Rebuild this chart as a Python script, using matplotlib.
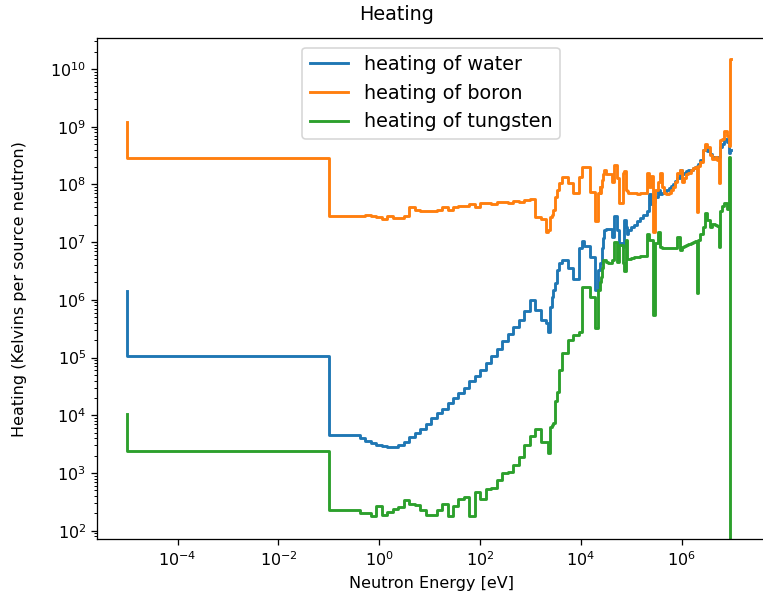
import matplotlib.pyplot as plt

# upper edge of each energy group (eV); first entry is the lowest edge
energy_ev = [
    1e-5, 0.1, 0.41399, 0.53158, 0.68256, 0.87642, 1.1254, 1.4450, 1.8554, 2.3824,
    3.0590, 3.9279, 5.0435, 6.4760, 8.3153, 10.677, 13.710, 17.603, 22.603, 29.023,
    37.266, 47.851, 61.442, 78.893, 101.30, 130.07, 167.02, 214.45, 275.36, 353.57,
    454.00, 582.95, 748.52, 961.12, 1234.1, 1584.6, 2034.7, 2248.7, 2485.2, 2612.6,
    2746.5, 3035.4, 3354.6, 3707.4, 4307.4, 5530.8, 7101.7, 9118.8, 10595, 11709,
    15034, 19305, 21875, 23579, 24176, 24788, 26058, 27000, 28501, 31828,
    34307, 40868, 46309, 52475, 56562, 67379, 72000, 79500, 82500, 86517,
    98037, 1.1109e5, 1.2907e5, 1.4996e5, 1.7422e5, 2.0242e5, 2.2371e5, 2.4724e5, 2.7324e5, 2.9452e5,
    3.3373e5, 3.6883e5, 4.0762e5, 4.5049e5, 4.9787e5, 5.5023e5, 6.0810e5, 6.7206e5, 7.4274e5, 8.2085e5,
    9.0718e5, 1.0026e6, 1.1080e6, 1.2246e6, 1.3534e6, 1.4957e6, 1.6530e6, 1.8268e6, 2.0190e6, 2.1225e6,
    2.3069e6, 2.5924e6, 2.8651e6, 3.1664e6, 3.6788e6, 4.0657e6, 4.4933e6, 4.9659e6, 5.4881e6, 5.7695e6,
    6.3763e6, 7.0469e6, 7.7880e6, 8.6071e6, 9.0484e6, 9.5123e6,
]

heating_water = [
    1.45e6, 1.07e5, 4.5e3, 4.0e3, 3.6e3, 3.3e3, 3.05e3, 2.9e3, 2.85e3, 2.85e3,
    3.05e3, 3.5e3, 4.2e3, 5.0e3, 5.9e3, 7.2e3, 8.8e3, 1.08e4, 1.3e4, 1.6e4,
    2.0e4, 2.45e4, 3.0e4, 3.9e4, 4.8e4, 6.1e4, 8.0e4, 1.05e5, 1.4e5, 1.9e5,
    2.6e5, 3.4e5, 4.4e5, 6.5e5, 1.0e6, 6.6e5, 4.4e5, 4.0e5, 2.8e5, 7.5e5,
    1.1e6, 1.5e6, 1.95e6, 3.3e6, 4.3e6, 4.9e6, 3.6e6, 2.3e6, 8.0e6, 1.05e7,
    8.5e6, 5.6e6, 1.5e6, 3.3e6, 4.3e6, 4.3e6, 4.3e6, 8.0e6, 1.2e7, 1.6e7,
    1.7e7, 1.7e7, 1.25e7, 2.8e7, 1.6e7, 9.6e6, 8.3e6, 2.4e7, 1.8e7, 1.4e7,
    1.6e7, 1.85e7, 2.0e7, 2.3e7, 2.6e7, 3.0e7, 3.4e7, 6.9e7, 4.5e7, 4.9e7,
    6.0e7, 7.9e7, 6.9e7, 7.2e7, 7.5e7, 8.0e7, 8.6e7, 9.4e7, 1.0e8, 1.15e8,
    1.3e8, 1.8e8, 1.5e8, 1.6e8, 1.7e8, 1.75e8, 1.8e8, 1.9e8, 2.0e8, 2.1e8,
    2.3e8, 2.7e8, 4.0e8, 4.6e8, 3.8e8, 3.3e8, 3.0e8, 3.0e8, 3.0e8, 3.0e8,
    4.5e8, 5.0e8, 6.0e8, 5.5e8, 3.5e8, 4.0e8,
]

heating_boron = [
    1.2e9, 2.9e8, 2.85e7, 2.85e7, 3.0e7, 2.85e7, 2.7e7, 2.5e7, 2.8e7, 2.65e7,
    2.65e7, 2.8e7, 4.0e7, 3.6e7, 3.4e7, 3.5e7, 3.5e7, 3.6e7, 4.1e7, 3.6e7,
    4.1e7, 4.2e7, 4.2e7, 4.6e7, 4.1e7, 4.7e7, 4.8e7, 4.6e7, 4.9e7, 5.0e7,
    4.8e7, 5.1e7, 5.0e7, 5.3e7, 5.6e7, 2.75e7, 2.5e7, 1.5e7, 1.6e7, 2.75e7,
    3.0e7, 3.6e7, 6.1e7, 8.0e7, 1.04e8, 1.35e8, 1.04e8, 7.0e7, 1.35e8, 2.0e8,
    2.0e8, 7.5e7, 2.3e7, 7.0e7, 9.0e7, 7.0e7, 9.0e7, 1.2e8, 1.5e8, 1.8e8,
    1.5e8, 1.5e8, 1.1e8, 2.2e8, 1.3e8, 4.8e7, 1.6e8, 1.7e8, 8.0e7, 7.8e7,
    7.0e7, 7.0e7, 7.0e7, 6.9e7, 7.0e7, 7.2e7, 1.6e8, 9.0e7, 1.4e8, 1.5e7,
    8.0e7, 1.1e8, 1.6e8, 9.0e7, 7.0e7, 6.9e7, 7.0e7, 8.0e7, 9.0e7, 1.1e8,
    1.6e8, 1.8e8, 1.1e8, 1.3e8, 1.5e8, 1.6e8, 1.8e8, 1.9e8, 2.0e8, 3.3e7,
    2.1e8, 2.4e8, 3.9e8, 5.0e8, 4.5e8, 3.2e8, 2.8e8, 3.0e8, 2.6e8, 1.04e8,
    5.9e8, 6.0e8, 8.3e8, 7.0e8, 4.6e8, 1.5e10,
]

heating_tungsten = [
    1.05e4, 2.4e3, 2.3e2, 2.05e2, 2.0e2, 1.8e2, 2.7e2, 1.87e2, 2.14e2, 2.35e2,
    2.6e2, 3.4e2, 2.9e2, 2.75e2, 2.3e2, 1.87e2, 1.87e2, 2.3e2, 2.9e2, 1.8e2,
    2.7e2, 3.5e2, 3.9e2, 1.8e2, 4.7e2, 3.55e2, 5.2e2, 5.6e2, 7.5e2, 9.8e2,
    1.05e3, 1.35e3, 1.9e3, 3.0e3, 4.3e3, 5.8e3, 3.5e3, 3.4e3, 2.2e3, 6.3e3,
    6.8e3, 7.3e3, 1.8e4, 2.5e4, 6.1e4, 1.2e5, 2.0e5, 2.45e5, 2.8e5, 1.7e6,
    1.7e6, 1.1e6, 3.2e5, 1.5e6, 1.95e6, 2.0e6, 2.5e6, 3.5e6, 4.9e6, 4.9e6,
    4.5e6, 4.3e6, 4.9e6, 1.0e7, 4.5e6, 9.0e6, 4.3e6, 3.2e6, 1.1e7, 5.0e6,
    5.0e6, 5.3e6, 5.5e6, 5.6e6, 5.7e6, 5.8e6, 1.4e7, 1.1e7, 1.1e7, 5.5e5,
    9.6e6, 1.5e7, 8.3e6, 7.8e6, 7.8e6, 7.8e6, 7.8e6, 7.8e6, 7.9e6, 8.0e6,
    1.25e7, 7.4e6, 8.3e6, 8.6e6, 9.0e6, 9.3e6, 9.6e6, 1.0e7, 1.05e7, 1.3e6,
    1.1e7, 1.4e7, 1.8e7, 3.2e7, 2.4e7, 1.85e7, 2.1e7, 2.0e7, 1.9e7, 8.3e6,
    3.4e7, 4.2e7, 4.7e7, 3.8e7, 3.0e8, 0.0,
]

fig = plt.figure(figsize=(6.635, 5.279), dpi=115)
ax = fig.add_axes([0.1275, 0.1115, 0.8751, 0.8259])

ax.step(energy_ev, heating_water, where='pre', label='heating of water', linewidth=1.8)
ax.step(energy_ev, heating_boron, where='pre', label='heating of boron', linewidth=1.8)
ax.step(energy_ev, heating_tungsten, where='pre', label='heating of tungsten', linewidth=1.8)

ax.set_xscale('log')
ax.set_yscale('log')
ax.set_xlim(10**-5.595, 10**7.653)
ax.set_ylim(10**1.851, 10**10.538)

ax.set_xlabel('Neutron Energy [eV]')
ax.set_ylabel('Heating (Kelvins per source neutron)')
ax.yaxis.set_label_coords(-0.106, 0.5)
fig.text(397 / 763, 1 - 14 / 607, 'Heating', ha='center', va='center', fontsize=12)

ax.legend(loc='upper center', fontsize=12)

fig.savefig('out.png', dpi=115)
